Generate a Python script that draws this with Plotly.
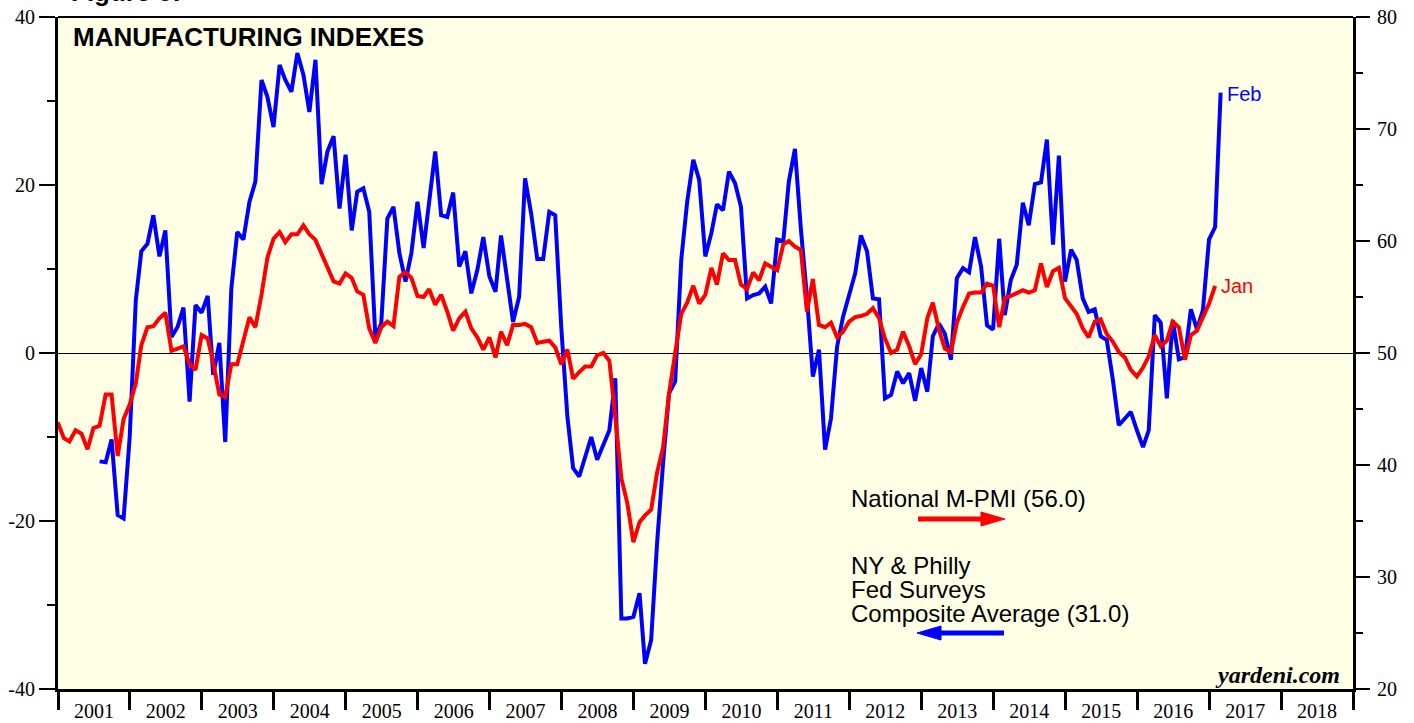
import plotly.graph_objects as go
import pandas as pd

# ISM national manufacturing PMI (right axis), monthly, Dec 2000 .. Jan 2017
pmi = [43.8, 42.4, 42.1, 43.1, 42.8, 41.4, 43.3, 43.5, 46.3, 46.3, 40.8, 44.1,
       45.4, 47.3, 50.7, 52.3, 52.4, 53.1, 53.6, 50.2, 50.4, 50.6, 49.0, 48.5,
       51.6, 51.3, 49.1, 46.3, 46.1, 49.0, 49.0, 51.0, 53.2, 52.3, 55.2, 58.5,
       60.2, 60.8, 59.9, 60.6, 60.6, 61.4, 60.6, 60.1, 58.8, 57.6, 56.4, 56.2,
       57.1, 56.7, 55.5, 55.2, 52.2, 50.9, 52.3, 52.8, 52.4, 56.8, 57.2, 56.7,
       55.1, 55.0, 55.7, 54.3, 55.2, 53.7, 52.0, 53.1, 53.7, 52.2, 51.4, 50.3,
       51.4, 49.6, 51.9, 50.7, 52.5, 52.5, 52.6, 52.3, 50.9, 51.0, 51.1, 50.5,
       49.0, 50.3, 47.7, 48.3, 48.8, 48.8, 49.8, 50.0, 49.3, 44.3, 38.8, 36.6,
       33.1, 34.9, 35.5, 36.0, 39.3, 41.6, 46.4, 50.0, 53.5, 54.5, 56.0, 54.4,
       55.2, 57.6, 56.1, 58.9, 58.3, 58.3, 56.1, 55.7, 57.2, 56.5, 58.0, 57.7,
       57.4, 59.7, 60.0, 59.5, 59.2, 53.7, 56.6, 52.5, 52.3, 52.7, 51.4, 51.9,
       52.8, 53.2, 53.3, 53.5, 54.0, 53.1, 51.3, 50.0, 50.3, 51.9, 50.6, 49.0,
       49.9, 53.1, 54.5, 52.1, 50.4, 50.1, 52.7, 54.1, 55.3, 55.4, 55.4, 56.2,
       56.0, 52.3, 54.9, 55.1, 55.3, 55.6, 55.4, 55.6, 58.0, 55.9, 57.3, 57.6,
       54.9, 54.2, 53.5, 52.2, 51.4, 52.8, 53.0, 51.7, 51.0, 50.1, 49.6, 48.5,
       47.9, 48.7, 49.7, 51.6, 50.6, 51.1, 52.8, 52.3, 49.4, 51.6, 52.0, 53.2,
       54.4, 56.0]
pmi_start = "2000-12"

# NY & Philly Fed surveys composite average (left axis), Jul 2001 .. Feb 2017
ny_philly = [-12.9, -13.0, -10.3, -19.3, -19.7, -10.0, 6.3, 12.1, 13.0, 16.4, 11.5, 14.6,
             1.9, 3.1, 5.4, -5.8, 5.7, 4.8, 6.8, -2.6, 1.2, -10.6, 7.7, 14.4,
             13.5, 18.0, 20.4, 32.5, 30.5, 26.9, 34.3, 32.5, 31.1, 35.7, 33.1, 28.7,
             34.9, 20.1, 24.0, 25.8, 17.2, 23.6, 14.6, 19.2, 19.6, 16.8, 1.9, 3.5,
             16.0, 17.4, 11.9, 8.5, 11.9, 18.0, 12.5, 18.2, 24.0, 16.4, 16.2, 19.1,
             10.3, 12.1, 7.1, 9.9, 13.8, 9.1, 7.3, 14.0, 8.7, 3.7, 6.7, 20.8,
             16.6, 11.2, 11.2, 16.8, 16.4, 3.0, -7.6, -13.7, -14.7, -12.3, -10.0, -12.7,
             -10.8, -9.2, -3.0, -31.6, -31.6, -31.4, -28.6, -37.0, -34.2, -22.7, -13.0, -4.8,
             -3.4, 11.1, 18.0, 23.0, 20.6, 11.5, 14.3, 17.7, 17.0, 21.6, 20.2, 17.4,
             6.5, 6.9, 7.1, 7.9, 5.9, 13.5, 13.3, 20.4, 24.3, 14.8, 6.7, -2.8,
             0.4, -11.5, -7.8, 0.75, 4.3, 6.7, 9.5, 14.0, 12.1, 6.5, 6.4, -5.4,
             -5.0, -2.2, -3.6, -2.4, -5.7, -1.8, -4.6, 2.0, 3.5, 2.3, -0.8, 8.9,
             10.1, 9.6, 13.8, 10.3, 3.3, 2.8, 13.6, 4.5, 8.7, 10.5, 17.9, 15.2,
             20.1, 20.3, 25.4, 12.9, 23.5, 8.5, 12.3, 11.1, 6.5, 4.9, 5.2, 2.0,
             1.55, -3.2, -8.6, -7.8, -7.0, -9.2, -11.2, -9.2, 4.5, 3.6, -5.4, 3.9,
             -0.75, -0.5, 5.2, 2.8, 5.1, 13.5, 15.0, 31.0]
ny_start = "2001-07"

x_range = ["2001-01-01", "2019-01-01"]
left_ticks = [-40, -20, 0, 20, 40]
left_labels = ["-40", "-20", "0", "20", "40"]
right_ticks = [20, 30, 40, 50, 60, 70, 80]
right_labels = ["20", "30", "40", "50", "60", "70", "80"]

pmi_x = pd.period_range(pmi_start, periods=len(pmi), freq="M").to_timestamp(how="end").normalize()
ny_x = pd.period_range(ny_start, periods=len(ny_philly), freq="M").to_timestamp(how="end").normalize()

W, H = 1414, 723
ML, MR, MT, MB = 58, 61, 17, 34
PW, PH = W - ML - MR, H - MT - MB


def px(x):
    return (x - ML) / PW


def py(y):
    return (H - MB - y) / PH


fig = go.Figure()
fig.add_trace(go.Scatter(x=ny_x, y=ny_philly, mode="lines", yaxis="y",
                         line=dict(color="#0000FF", width=4), showlegend=False))
fig.add_trace(go.Scatter(x=pmi_x, y=pmi, mode="lines", yaxis="y2",
                         line=dict(color="#FF0000", width=4), showlegend=False))

serif = "Liberation Serif, Times New Roman, serif"
sans = "Liberation Sans, Arial, sans-serif"

fig.update_layout(
    width=W, height=H,
    margin=dict(l=ML, r=MR, t=MT, b=MB, pad=0, autoexpand=False),
    paper_bgcolor="white",
    plot_bgcolor="#FFFFE6",
    xaxis=dict(type="date", range=x_range, dtick="M12", tick0="2001-01-01",
               tickformat="%Y", ticklabelmode="period", ticks="outside", ticklen=18,
               tickwidth=2.5, tickcolor="black", showline=True, linewidth=3,
               linecolor="black", showgrid=False, zeroline=False, automargin=False,
               ticklabelstandoff=-16,
               tickfont=dict(family=serif, size=20, color="black")),
    yaxis=dict(range=[-40, 40], tickmode="array", tickvals=left_ticks, ticktext=left_labels,
               ticks="outside", ticklen=16,
               tickwidth=1.5, tickcolor="black", showline=True, linewidth=3,
               linecolor="black", showgrid=False, zeroline=True, zerolinecolor="black",
               zerolinewidth=1, automargin=False, ticklabelstandoff=0,
               minor=dict(dtick=10, tick0=0, ticks="outside", ticklen=8, tickwidth=1.5,
                          tickcolor="black", showgrid=False),
               tickfont=dict(family=serif, size=20, color="black")),
    yaxis2=dict(range=[20, 80], overlaying="y", side="right", tickmode="array",
                tickvals=right_ticks, ticktext=right_labels,
                ticks="outside", ticklen=14, tickwidth=1.5, tickcolor="black",
                showline=True, linewidth=3, linecolor="black", showgrid=False,
                zeroline=False, automargin=False, ticklabelstandoff=3,
                minor=dict(dtick=5, tick0=20, ticks="outside", ticklen=7, tickwidth=1.5,
                           tickcolor="black", showgrid=False),
                tickfont=dict(family=serif, size=20, color="black")),
)

annotations = [
    dict(text="<b>Figure 8:</b>", x=px(69), y=py(-8), xanchor="left", yanchor="middle",
         font=dict(family=sans, size=26, color="black")),
    dict(text="<b>MANUFACTURING INDEXES</b>", x=px(71), y=py(37), xanchor="left",
         yanchor="middle", font=dict(family=sans, size=26, color="black")),
    dict(text="National M-PMI (56.0)", x=px(849), y=py(498), xanchor="left",
         yanchor="middle", font=dict(family=sans, size=24, color="black")),
    dict(text="NY & Philly", x=px(849), y=py(565), xanchor="left", yanchor="middle",
         font=dict(family=sans, size=24, color="black")),
    dict(text="Fed Surveys", x=px(849), y=py(589), xanchor="left", yanchor="middle",
         font=dict(family=sans, size=24, color="black")),
    dict(text="Composite Average (31.0)", x=px(849), y=py(613), xanchor="left",
         yanchor="middle", font=dict(family=sans, size=24, color="black")),
    dict(text="<b><i>yardeni.com</i></b>", x=px(1342), y=py(675), xanchor="right",
         yanchor="middle", font=dict(family=serif, size=24, color="black")),
]
for a in annotations:
    a.update(xref="paper", yref="paper", showarrow=False)

annotations.append(dict(text="Feb", x=ny_x[-1], y=ny_philly[-1], xref="x", yref="y",
                        xanchor="left", yanchor="middle", xshift=4, yshift=-1, showarrow=False,
                        font=dict(family=sans, size=20, color="#0000FF")))
annotations.append(dict(text="Jan", x=pmi_x[-1], y=pmi[-1], xref="x", yref="y2",
                        xanchor="left", yanchor="middle", xshift=4, showarrow=False,
                        font=dict(family=sans, size=20, color="#FF0000")))
fig.update_layout(annotations=annotations)

shapes = [
    # top frame line
    dict(type="line", xref="paper", yref="paper", x0=0, x1=1, y0=1, y1=1,
         line=dict(color="black", width=2)),
    # red legend arrow (pointing right)
    dict(type="line", xref="paper", yref="paper", x0=px(918), x1=px(984), y0=py(519), y1=py(519),
         line=dict(color="#FF0000", width=5)),
    dict(type="path", xref="paper", yref="paper",
         path=f"M {px(981)},{py(512)} L {px(1005)},{py(519)} L {px(981)},{py(526)} Z",
         fillcolor="#FF0000", line=dict(color="#FF0000", width=1)),
    # blue legend arrow (pointing left)
    dict(type="line", xref="paper", yref="paper", x0=px(938), x1=px(1004), y0=py(633), y1=py(633),
         line=dict(color="#0000FF", width=5)),
    dict(type="path", xref="paper", yref="paper",
         path=f"M {px(941)},{py(626)} L {px(917)},{py(633)} L {px(941)},{py(640)} Z",
         fillcolor="#0000FF", line=dict(color="#0000FF", width=1)),
]
fig.update_layout(shapes=shapes)

fig.write_html("out.html", config={"displayModeBar": False},
               post_script="document.body.style.margin='0';")
